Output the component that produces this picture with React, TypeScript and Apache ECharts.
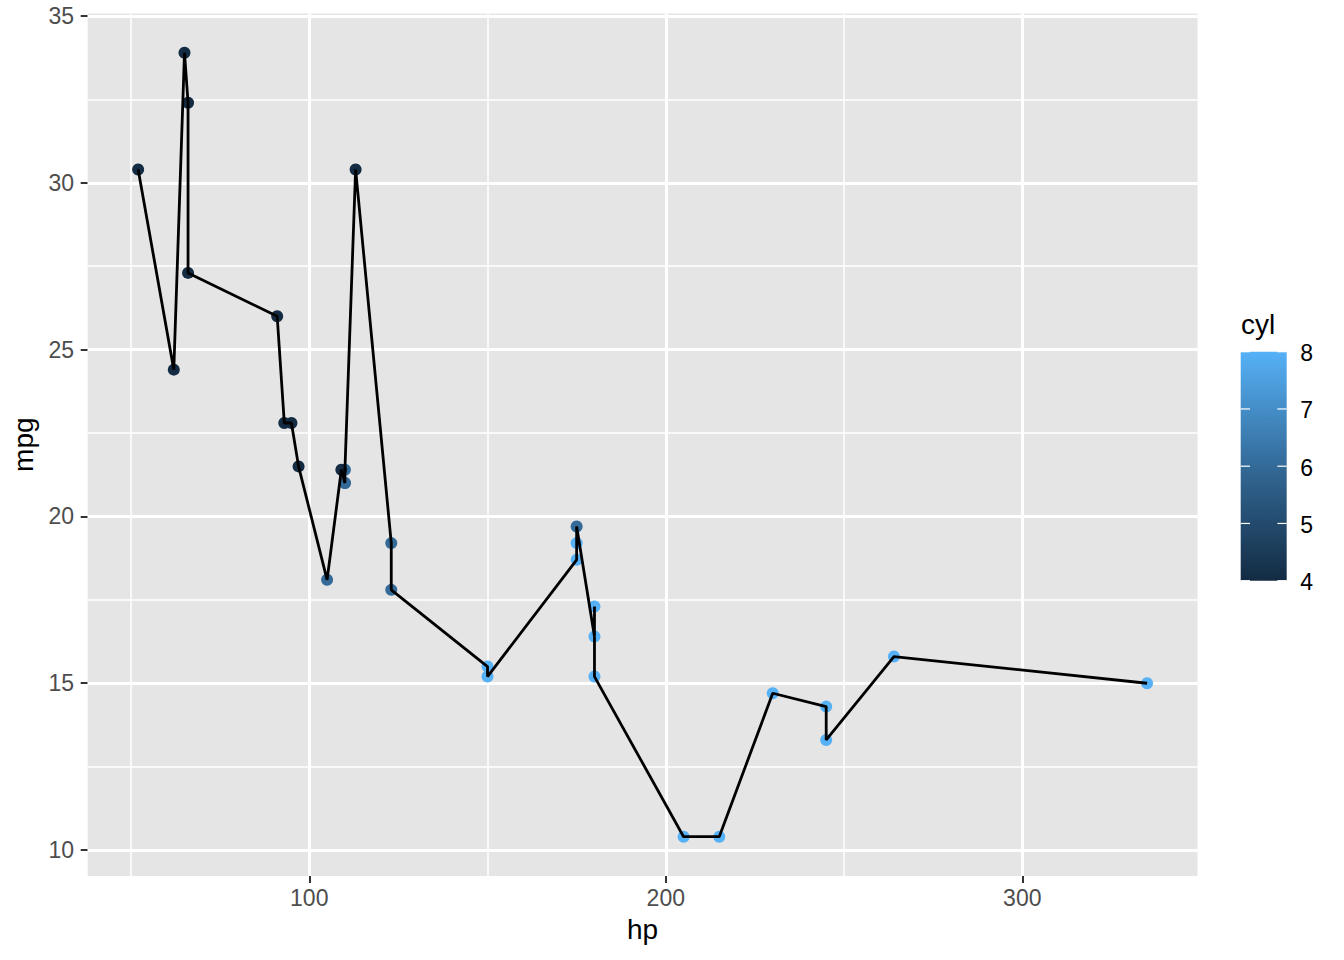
import { useEffect, useRef } from "react";
import * as echarts from "echarts";

// mtcars: hp, mpg, cyl (original row order)
const hp = [110, 110, 93, 110, 175, 105, 245, 62, 95, 123, 123, 180, 180, 180, 205, 215, 230, 66, 52, 65, 97, 150, 150, 245, 175, 66, 91, 113, 264, 175, 335, 109];
const mpg = [21, 21, 22.8, 21.4, 18.7, 18.1, 14.3, 24.4, 22.8, 19.2, 17.8, 16.4, 17.3, 15.2, 10.4, 10.4, 14.7, 32.4, 30.4, 33.9, 21.5, 15.5, 15.2, 13.3, 19.2, 27.3, 26, 30.4, 15.8, 19.7, 15, 21.4];
const cyl = [6, 6, 4, 6, 8, 6, 8, 4, 4, 6, 6, 8, 8, 8, 8, 8, 8, 4, 4, 4, 4, 8, 8, 8, 8, 4, 4, 4, 8, 6, 8, 4];

const xMajor = [100, 200, 300];
const xMinor = [50, 150, 250];
const yMajor = [10, 15, 20, 25, 30, 35];
const yMinor = [12.5, 17.5, 22.5, 27.5, 32.5];
const legendTicks = [4, 5, 6, 7, 8];
const colorStops = ["#132B43", "#336A98", "#56B1F7"];

const FONT = "'Liberation Sans', Arial, Helvetica, sans-serif";

export default function App() {
  const ref = useRef<HTMLDivElement>(null);

  useEffect(() => {
    const chart = echarts.init(ref.current!, null, { renderer: "svg" });

    const points = hp.map((h, i) => [h, mpg[i], cyl[i]]);
    const order = hp.map((_, i) => i).sort((a, b) => hp[a] - hp[b]);
    const lineData = order.map((i) => [hp[i], mpg[i]]);

    const hMin = Math.min(...hp), hMax = Math.max(...hp);
    const mMin = Math.min(...mpg), mMax = Math.max(...mpg);
    const xMin = hMin - 0.05 * (hMax - hMin);
    const xMax = hMax + 0.05 * (hMax - hMin);
    const yMin = mMin - 0.05 * (mMax - mMin);
    const yMax = mMax + 0.05 * (mMax - mMin);

    const major = { color: "#FFFFFF", width: 3, type: "solid" as const };
    const minor = { color: "#FFFFFF", width: 1.5, type: "solid" as const };

    // colour bar legend geometry
    const barLeft = 1240.7, barTop = 351.7, barW = 46, barH = 229;
    const lMin = legendTicks[0], lMax = legendTicks[legendTicks.length - 1];
    const tickY = (v: number) => barTop + ((lMax - v) / (lMax - lMin)) * barH;

    const graphics: any[] = [
      {
        type: "rect",
        shape: { x: barLeft, y: barTop, width: barW, height: barH },
        style: {
          fill: new echarts.graphic.LinearGradient(0, 0, 0, 1, [
            { offset: 0, color: colorStops[2] },
            { offset: 0.5, color: colorStops[1] },
            { offset: 1, color: colorStops[0] },
          ]),
        },
        z: 10,
      },
      {
        type: "text",
        x: 1241,
        y: 324,
        style: { text: "cyl", font: `28px ${FONT}`, fill: "#000", textVerticalAlign: "middle", textAlign: "left" },
        z: 10,
      },
    ];
    legendTicks.forEach((v) => {
      const y = tickY(v);
      graphics.push(
        { type: "line", shape: { x1: barLeft, y1: y, x2: barLeft + 9.3, y2: y }, style: { stroke: "#FFFFFF", lineWidth: 1.2 }, z: 11 },
        { type: "line", shape: { x1: barLeft + barW - 9.3, y1: y, x2: barLeft + barW, y2: y }, style: { stroke: "#FFFFFF", lineWidth: 1.2 }, z: 11 },
        {
          type: "text",
          x: barLeft + barW + 13.5,
          y: y + 1.5,
          style: { text: String(v), font: `23px ${FONT}`, fill: "#000", textVerticalAlign: "middle", textAlign: "left" },
          z: 11,
        }
      );
    });

    chart.setOption({
      animation: false,
      backgroundColor: "#FFFFFF",
      textStyle: { fontFamily: FONT },
      grid: {
        left: 87.7,
        top: 13.5,
        width: 1109.8,
        height: 862.4,
        show: true,
        backgroundColor: "#E5E5E5",
        borderWidth: 0,
      },
      xAxis: {
        type: "value",
        min: xMin,
        max: xMax,
        axisLine: { show: false },
        splitLine: { show: false },
        axisTick: { show: true, length: 7, lineStyle: { color: "#333333", width: 2 }, customValues: xMajor },
        axisLabel: { customValues: xMajor, color: "#4D4D4D", fontSize: 23, fontFamily: FONT, margin: 10.5 },
        name: "hp",
        nameLocation: "middle",
        nameGap: 40,
        nameTextStyle: { fontSize: 28, color: "#000", fontFamily: FONT },
      },
      yAxis: {
        type: "value",
        min: yMin,
        max: yMax,
        axisLine: { show: false },
        splitLine: { show: false },
        axisTick: { show: true, length: 7, lineStyle: { color: "#333333", width: 2 }, customValues: yMajor },
        axisLabel: { customValues: yMajor, color: "#4D4D4D", fontSize: 23, fontFamily: FONT, margin: 13.7 },
        name: "mpg",
        nameLocation: "middle",
        nameGap: 48,
        nameTextStyle: { fontSize: 28, color: "#000", fontFamily: FONT },
      },
      visualMap: {
        show: false,
        type: "continuous",
        min: lMin,
        max: lMax,
        dimension: 2,
        seriesIndex: 1,
        inRange: { color: colorStops },
      },
      graphic: graphics,
      series: [
        {
          type: "scatter",
          data: [],
          z: 1,
          silent: true,
          markLine: {
            z: 1,
            silent: true,
            symbol: ["none", "none"],
            label: { show: false },
            animation: false,
            data: [
              ...xMinor.map((v) => ({ xAxis: v, lineStyle: minor })),
              ...yMinor.map((v) => ({ yAxis: v, lineStyle: minor })),
              ...xMajor.map((v) => ({ xAxis: v, lineStyle: major })),
              ...yMajor.map((v) => ({ yAxis: v, lineStyle: major })),
            ],
          },
        },
        {
          type: "scatter",
          data: points,
          symbol: "circle",
          symbolSize: 12,
          z: 2,
          itemStyle: { opacity: 1 },
        },
        {
          type: "line",
          data: lineData,
          symbol: "none",
          z: 3,
          lineStyle: { color: "#000000", width: 2.8 },
          silent: true,
        },
      ],
    });

    return () => chart.dispose();
  }, []);

  return <div ref={ref} style={{ position: "fixed", left: 0, top: 0, width: 1344, height: 960 }} />;
}
